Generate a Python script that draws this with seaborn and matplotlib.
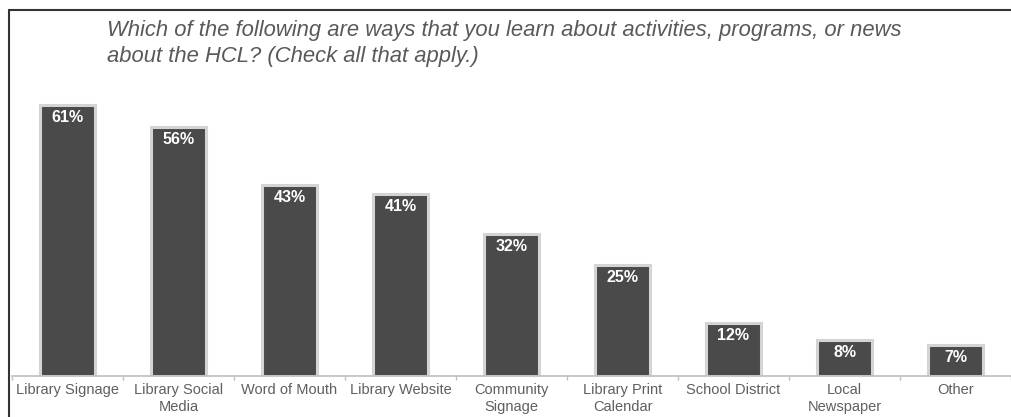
import matplotlib
matplotlib.use("Agg")
import matplotlib.pyplot as plt
from matplotlib.lines import Line2D
from matplotlib.ticker import FixedLocator
import seaborn as sns
import pandas as pd

title = "Which of the following are ways that you learn about activities, programs, or news\nabout the HCL? (Check all that apply.)"
categories = ["Library Signage", "Library Social\nMedia", "Word of Mouth", "Library Website",
              "Community\nSignage", "Library Print\nCalendar", "School District",
              "Local\nNewspaper", "Other"]
values = [61, 56, 43, 41, 32, 25, 12, 8, 7]
labels = ["61%", "56%", "43%", "41%", "32%", "25%", "12%", "8%", "7%"]

sns.set_theme(style="white")
plt.rcParams['font.family'] = ['Liberation Sans', 'DejaVu Sans']

W, H = 1011, 417
fig = plt.figure(figsize=(W / 100, H / 100), dpi=100)
ax = fig.add_axes([12 / W, (H - 376) / H, (W - 12) / W, 311 / H])

df = pd.DataFrame({"cat": categories, "val": values})
sns.barplot(data=df, x="cat", y="val", color="#4a4a4a", saturation=1, width=0.5,
            edgecolor="#d4d4d4", linewidth=2.2, ax=ax)

ax.set_xlim(-0.5, len(categories) - 0.5)
ax.set_ylim(0, 70)
ax.set_xlabel("")
ax.set_ylabel("")
ax.set_yticks([])
for s in ["top", "right", "left"]:
    ax.spines[s].set_visible(False)
ax.spines["bottom"].set_color("#bfbfbf")
ax.spines["bottom"].set_linewidth(1.2)

ax.tick_params(axis="x", which="major", length=0, pad=5, labelsize=10.5, labelcolor="#5f5f5f")
ax.xaxis.set_minor_locator(FixedLocator([i - 0.5 for i in range(len(categories) + 1)]))
ax.tick_params(axis="x", which="minor", bottom=True, length=3, width=1, color="#bfbfbf")
ax.set_xticks(range(len(categories)))
ax.set_xticklabels(categories, linespacing=1.3)

for i, (v, lab) in enumerate(zip(values, labels)):
    ax.annotate(lab, (i, v), xytext=(0, -9), textcoords="offset points",
                ha="center", va="center", color="white", fontsize=11.5, fontweight="bold")

fig.text(107 / W, 1 - 20 / H, title, ha="left", va="top", fontsize=15.8,
         style="italic", color="#595959", linespacing=1.3)

# frame lines of the original slide
fig.add_artist(Line2D([9 / W, 1], [1 - 10 / H, 1 - 10 / H], color="#333333", lw=1.5,
                      transform=fig.transFigure))
fig.add_artist(Line2D([9 / W, 9 / W], [0, 1 - 10 / H], color="#333333", lw=1.5,
                      transform=fig.transFigure))

fig.savefig("out.png", dpi=100, facecolor="white")
